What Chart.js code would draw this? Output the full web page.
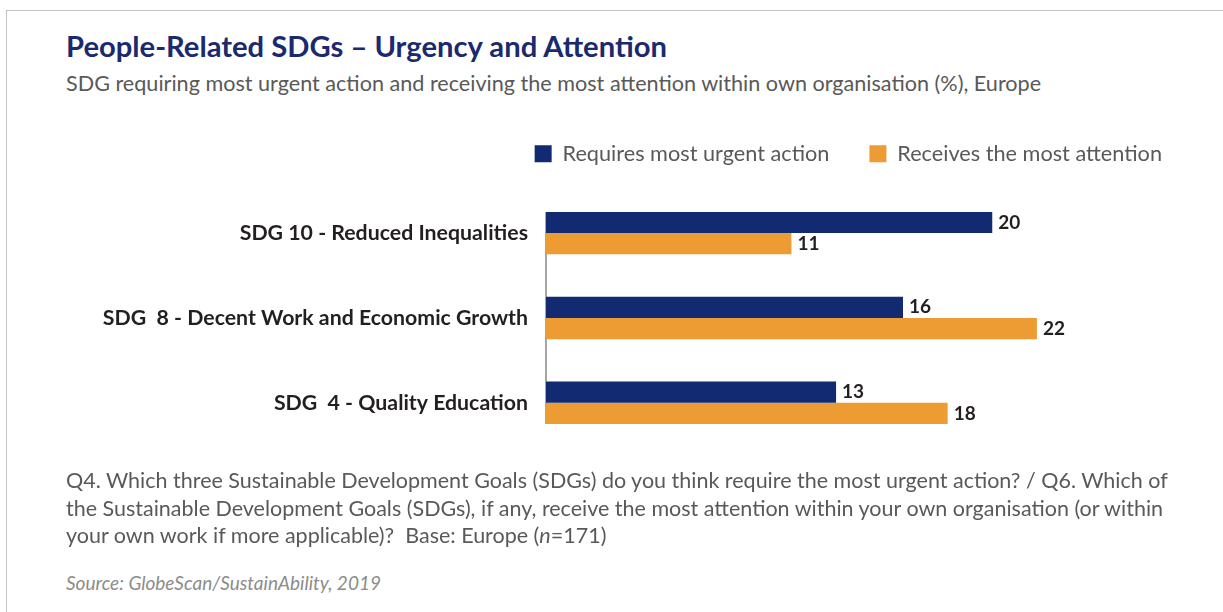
<!DOCTYPE html>
<html>
<head>
<meta charset="utf-8">
<script src="https://cdn.jsdelivr.net/npm/chart.js@4.4.1/dist/chart.umd.min.js"></script>
<style>
	body { margin: 0; width: 1223px; height: 612px; background: #fff; font-family: Lato, sans-serif; position: relative; overflow: hidden; }
	.frame { position: absolute; left: 6px; top: 10px; right: -5px; bottom: -5px; border-top: 1.5px solid #c3c3c3; border-left: 1.5px solid #c3c3c3; }
	.title { position: absolute; left: 66px; top: 28px; font-size: 29.2px; font-weight: bold; color: #1b2a6e; white-space: nowrap; }
	.subtitle { position: absolute; left: 66px; top: 70px; font-size: 21.6px; color: #595959; white-space: nowrap; }
	#wrap { position: absolute; left: 0; top: 100px; width: 1223px; height: 376px; }
	.note { position: absolute; left: 66px; top: 467px; font-size: 21.5px; line-height: 27.5px; color: #595959; white-space: nowrap; }
	.source { position: absolute; left: 66px; top: 571px; font-size: 19px; font-style: italic; color: #8c8c8c; white-space: nowrap; }
</style>
</head>
<body>
<div class="frame"></div>
<div class="title">People-Related SDGs – Urgency and Attention</div>
<div class="subtitle">SDG requiring most urgent action and receiving the most attention within own organisation (%), Europe</div>
<div id="wrap"><canvas id="sdgChart" width="1223" height="376"></canvas></div>
<div class="note">Q4. Which three Sustainable Development Goals (SDGs) do you think require the most urgent action? / Q6. Which of<br>the Sustainable Development Goals (SDGs), if any, receive the most attention within your own organisation (or within<br>your own work if more applicable)?&nbsp; Base: Europe (<i>n</i>=171)</div>
<div class="source">Source: GlobeScan/SustainAbility, 2019</div>
<script>
var categories = [
	'SDG 10 - Reduced Inequalities',
	'SDG  8 - Decent Work and Economic Growth',
	'SDG  4 - Quality Education',
];
var urgentAction = [20, 16, 13];
var mostAttention = [11, 22, 18];

Chart.defaults.font.family = 'Lato, sans-serif';

// value labels at the end of each bar
var barLabels = {
	id: 'barLabels',
	afterDatasetsDraw: function(chart) {
		var ctx = chart.ctx;
		ctx.save();
		ctx.font = 'bold 19px Lato';
		ctx.fillStyle = '#231f20';
		ctx.textBaseline = 'middle';
		chart.data.datasets.forEach(function(ds, i) {
			chart.getDatasetMeta(i).data.forEach(function(bar, j) {
				ctx.fillText(ds.data[j], bar.x + 6, bar.y);
			});
		});
		ctx.restore();
	}
};

// grey baseline only spanning the bars
var baseLine = {
	id: 'baseLine',
	beforeDatasetsDraw: function(chart) {
		var first = chart.getDatasetMeta(0).data[0];
		var lastMeta = chart.getDatasetMeta(chart.data.datasets.length - 1).data;
		var last = lastMeta[lastMeta.length - 1];
		var x = chart.scales.x.getPixelForValue(0);
		var ctx = chart.ctx;
		ctx.save();
		ctx.strokeStyle = '#a6a6a6';
		ctx.lineWidth = 2;
		ctx.beginPath();
		ctx.moveTo(x, first.y - first.height / 2);
		ctx.lineTo(x, last.y + last.height / 2);
		ctx.stroke();
		ctx.restore();
	}
};

// extra space under the legend
var legendGap = {
	id: 'legendGap',
	beforeInit: function(chart) {
		var fit = chart.legend.fit;
		chart.legend.fit = function() {
			fit.bind(chart.legend)();
			this.height += 16;
		};
	}
};

var config = {
	type: 'bar',
	data: {
		labels: categories,
		datasets: [{
			label: 'Requires most urgent action',
			data: urgentAction,
			backgroundColor: '#122a71',
		}, {
			label: 'Receives the most attention',
			data: mostAttention,
			backgroundColor: '#ed9b33',
		}]
	},
	options: {
		indexAxis: 'y',
		responsive: false,
		animation: false,
		layout: { padding: { left: 0, right: 21, top: 3, bottom: 6 } },
		datasets: {
			bar: { categoryPercentage: 0.5, barPercentage: 1.0 }
		},
		scales: {
			x: { display: false, min: 0, max: 29.4 },
			y: {
				grid: { display: false, drawTicks: false },
				border: { display: false },
				ticks: {
					padding: 18,
					color: '#231f20',
					font: { size: 21.3, weight: 'bold' }
				},
				afterFit: function(scale) { scale.width = 546; }
			}
		},
		plugins: {
			legend: {
				position: 'top',
				align: 'end',
				labels: {
					boxWidth: 17,
					boxHeight: 17,
					padding: 40,
					color: '#595959',
					font: { size: 21.7 }
				}
			},
			tooltip: { enabled: false }
		}
	},
	plugins: [barLabels, baseLine, legendGap]
};

window.onload = function() {
	var ctx = document.getElementById('sdgChart').getContext('2d');
	window.sdgChart = new Chart(ctx, config);
};
</script>
</body>
</html>
